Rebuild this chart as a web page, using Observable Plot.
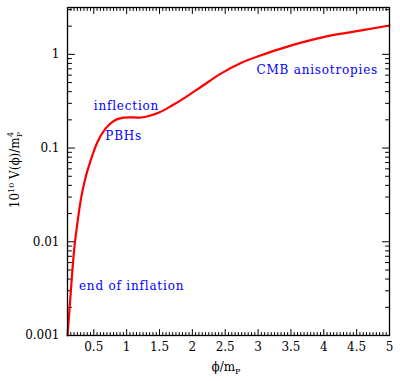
<!DOCTYPE html>
<html>
<head>
<meta charset="utf-8">
<script src="https://cdn.jsdelivr.net/npm/d3@7"></script>
<script src="https://cdn.jsdelivr.net/npm/@observablehq/plot@0.6"></script>
<style>
  html, body { margin: 0; padding: 0; background: #fff; }
  #chart svg { display: block; }
</style>
</head>
<body>
<div id="chart"></div>
<script>
// Curve data
const phi = [0.1, 0.133, 0.163, 0.2, 0.25, 0.301, 0.377, 0.453, 0.556, 0.678, 0.78, 0.881, 1.034, 1.186, 1.339, 1.492, 1.696, 1.9, 2.129, 2.434, 2.739, 3.045, 3.35, 3.655, 3.961, 4.266, 4.572, 5.0];
const V   = [0.001, 0.00201, 0.00387, 0.0081, 0.0157, 0.0277, 0.0491, 0.0739, 0.116, 0.161, 0.189, 0.206, 0.213, 0.211, 0.22, 0.239, 0.286, 0.35, 0.448, 0.622, 0.808, 0.976, 1.15, 1.333, 1.508, 1.663, 1.804, 2.03];

// Tick values
const xTicks = [0.5, 1, 1.5, 2, 2.5, 3, 3.5, 4, 4.5, 5];
const xMinor = d3.range(3, 101).map(i => i * 0.05).filter(v => Math.abs(v / 0.5 - Math.round(v / 0.5)) > 1e-6);
const yTicks = [0.001, 0.01, 0.1, 1];
const yMinor = [0.001, 0.01, 0.1, 1].flatMap(d => [2,3,4,5,6,7,8,9].map(m => +(d * m).toPrecision(3))).filter(v => v <= 3.16);

// Annotations
const annText = ["inflection", "PBHs", "CMB anisotropies", "end of inflation"];
const annX = [0.997, 0.954, 3.9, 1.075];
const annY = [0.279, 0.133, 0.675, 0.00337];

const curve = phi.map((p, i) => ({phi: p, V: V[i]}));
const ann = annText.map((t, i) => ({t, x: annX[i], y: annY[i]}));

const tickShape = {draw(ctx, l) { ctx.moveTo(0, 0); ctx.lineTo(0, -l); }};

const chart = Plot.plot({
  width: 400,
  height: 381,
  marginLeft: 67,
  marginRight: 11,
  marginTop: 7,
  marginBottom: 46,
  style: {fontFamily: "DejaVu Serif", fontSize: "12px", background: "#fff"},
  x: {type: "linear", domain: [0.1, 5]},
  y: {type: "log", domain: [0.001, 3.16]},
  marks: [
    Plot.axisX({ticks: xTicks, tickSize: 0, tickPadding: 7, tickFormat: d => String(d), label: null, fill: "#000", fontSize: 12}),
    Plot.axisY({ticks: yTicks, tickSize: 0, tickPadding: 8, tickFormat: d => String(d), label: null, fill: "#000", fontSize: 12}),
    // bottom ticks (inward)
    Plot.vector(xTicks, {x: d => d, frameAnchor: "bottom", length: 6, rotate: 0, anchor: "start", shape: tickShape, stroke: "#000", strokeWidth: 1}),
    Plot.vector(xMinor, {x: d => d, frameAnchor: "bottom", length: 3, rotate: 0, anchor: "start", shape: tickShape, stroke: "#000", strokeWidth: 1}),
    // top ticks
    Plot.vector(xTicks, {x: d => d, frameAnchor: "top", length: 6, rotate: 180, anchor: "start", shape: tickShape, stroke: "#000", strokeWidth: 1}),
    Plot.vector(xMinor, {x: d => d, frameAnchor: "top", length: 3, rotate: 180, anchor: "start", shape: tickShape, stroke: "#000", strokeWidth: 1}),
    // left ticks
    Plot.vector(yTicks, {y: d => d, frameAnchor: "left", length: 7, rotate: 90, anchor: "start", shape: tickShape, stroke: "#000", strokeWidth: 1}),
    Plot.vector(yMinor, {y: d => d, frameAnchor: "left", length: 4, rotate: 90, anchor: "start", shape: tickShape, stroke: "#000", strokeWidth: 1}),
    // right ticks
    Plot.vector(yTicks, {y: d => d, frameAnchor: "right", length: 7, rotate: -90, anchor: "start", shape: tickShape, stroke: "#000", strokeWidth: 1}),
    Plot.vector(yMinor, {y: d => d, frameAnchor: "right", length: 4, rotate: -90, anchor: "start", shape: tickShape, stroke: "#000", strokeWidth: 1}),
    Plot.line(curve, {x: "phi", y: "V", stroke: "#ff0000", strokeWidth: 2.2, curve: "monotone-x"}),
    Plot.text(ann, {x: "x", y: "y", text: "t", fill: "#0000ff", fontSize: 12, textAnchor: "middle", style: "letter-spacing: 0.8px"}),
    Plot.frame({stroke: "#000", strokeWidth: 1.3})
  ]
});

document.getElementById("chart").appendChild(chart);

// letter spacing for annotation text (Plot has no letterSpacing option)
d3.select(chart).selectAll("text").filter(function() { return this.getAttribute("fill") === "#0000ff" || (this.parentNode && this.parentNode.getAttribute && this.parentNode.getAttribute("fill") === "#0000ff"); })
  .style("letter-spacing", "0.8px");

// Axis titles with sub/superscripts
const svg = d3.select(chart);
const ff = "DejaVu Serif";
const xt = svg.append("text")
  .attr("x", 226).attr("y", 371)
  .attr("text-anchor", "middle")
  .attr("font-family", ff).attr("font-size", 12).attr("fill", "#000");
xt.append("tspan").text("\u03D5/m");
xt.append("tspan").attr("dy", 3).attr("font-size", 8).text("P");

const yt = svg.append("text")
  .attr("transform", "translate(19,170) rotate(-90)")
  .attr("text-anchor", "middle")
  .attr("font-family", ff).attr("font-size", 12).attr("fill", "#000");
yt.append("tspan").text("10");
yt.append("tspan").attr("dy", -5).attr("font-size", 8).text("10");
yt.append("tspan").attr("dy", 5).text(" V(\u03D5)/m");
yt.append("tspan").attr("dy", 3).attr("font-size", 8).text("P");
yt.append("tspan").attr("dx", -5).attr("dy", -9).attr("font-size", 8).text("4");
</script>
</body>
</html>
